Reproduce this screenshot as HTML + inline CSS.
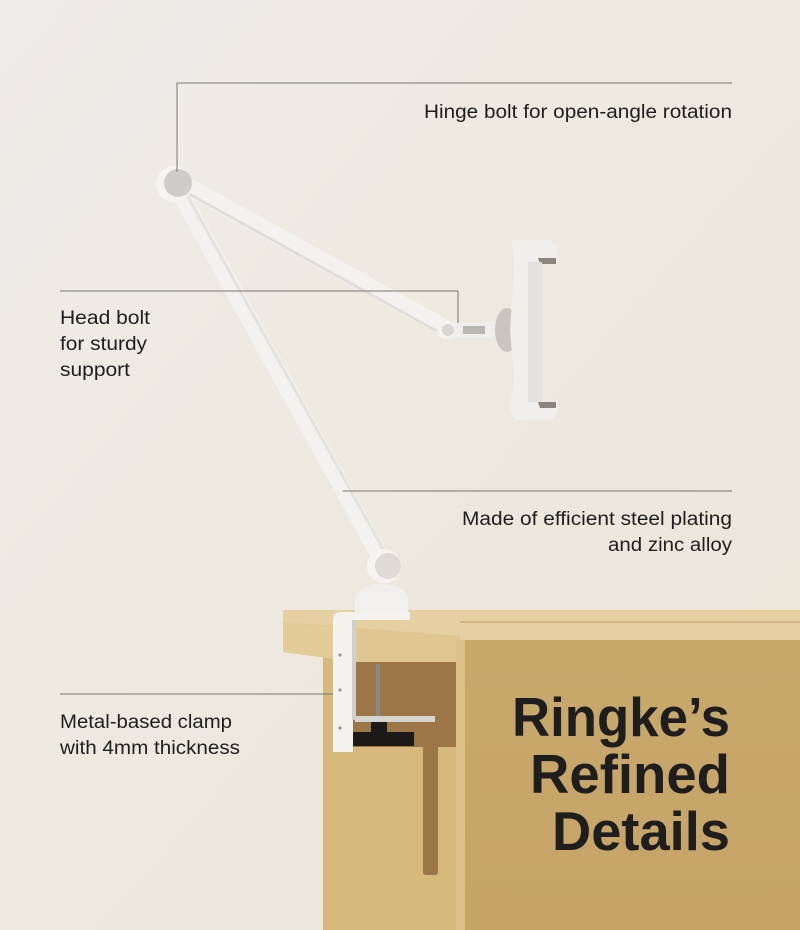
<!DOCTYPE html>
<html><head><meta charset="utf-8"><style>
html,body{margin:0;padding:0;width:800px;height:930px;overflow:hidden}
svg{display:block}
text{font-family:"Liberation Sans",sans-serif;fill:#1e1e1e}
</style></head><body>
<svg width="800" height="930" viewBox="0 0 800 930" xmlns="http://www.w3.org/2000/svg">
<defs>
<linearGradient id="bg" x1="0" y1="0" x2="1" y2="1">
<stop offset="0" stop-color="#efede8"/><stop offset="1" stop-color="#ebe5d8"/>
</linearGradient>
<linearGradient id="face" x1="0" y1="0" x2="0" y2="1">
<stop offset="0" stop-color="#c9a86c"/><stop offset="1" stop-color="#c6a468"/>
</linearGradient>
</defs>
<rect width="800" height="930" fill="url(#bg)"/>

<!-- desk -->
<rect x="323" y="650" width="142" height="280" fill="#d8b97d"/>
<rect x="283" y="610" width="517" height="30" fill="#e6cfa1"/>
<line x1="460" y1="622" x2="800" y2="622" stroke="#d2b784" stroke-width="2"/>
<polygon points="283,622 460,636 460,678 357,662 283,652" fill="#e0c792"/>
<polygon points="283,622 357,630 357,662 283,652" fill="#e4cc99"/>
<rect x="352" y="662" width="104" height="85" fill="#9c7646"/>
<rect x="423" y="745" width="15" height="130" rx="3" fill="#9c7646"/>
<rect x="456" y="640" width="10" height="290" fill="#dcc08a"/>
<rect x="465" y="640" width="335" height="290" fill="url(#face)"/>

<!-- clamp -->
<rect x="376" y="664" width="4" height="60" fill="#8a8a88"/>
<rect x="355" y="716" width="80" height="6" fill="#d4d4d0"/>
<rect x="371" y="722" width="16" height="12" fill="#1c1a18"/>
<rect x="352" y="732" width="62" height="14" fill="#1c1a18"/>
<path d="M333 752 L333 620 Q333 612 341 612 L410 612 L410 620 L353 620 L353 752 Z" fill="#f3f2ef"/>
<rect x="352" y="620" width="4" height="100" fill="#cfcfcb"/>
<circle cx="340" cy="655" r="1.6" fill="#999"/><circle cx="340" cy="690" r="1.6" fill="#999"/><circle cx="340" cy="728" r="1.6" fill="#999"/>
<path d="M355 612 L355 598 Q360 585 382 584 Q404 585 408 598 L408 612 Z" fill="#f1f0ed"/>

<!-- arms -->
<line x1="176" y1="186" x2="382" y2="560" stroke="#f3f2ef" stroke-width="17" stroke-linecap="round"/>
<line x1="182" y1="186" x2="388" y2="558" stroke="#e4e2dd" stroke-width="3"/>
<line x1="180" y1="182" x2="445" y2="328" stroke="#f3f2ef" stroke-width="17" stroke-linecap="round"/>
<line x1="182" y1="190" x2="442" y2="334" stroke="#e0ded9" stroke-width="3"/>
<circle cx="174" cy="184" r="18" fill="#f5f4f1"/>
<circle cx="178" cy="183" r="14" fill="#cfcdc9"/>
<circle cx="384" cy="566" r="17" fill="#f5f4f1"/>
<circle cx="388" cy="566" r="13" fill="#dedbd5"/>
<!-- head -->
<rect x="440" y="322" width="60" height="16" rx="3" fill="#efeeeb"/>
<rect x="463" y="326" width="22" height="8" fill="#b9b7b2"/>
<circle cx="446" cy="330" r="9" fill="#f4f3f0"/><circle cx="448" cy="330" r="6" fill="#d8d6d1"/>
<ellipse cx="507" cy="330" rx="12" ry="22" fill="#c9c6c0"/>
<!-- tablet holder -->
<path d="M512 240 L548 240 Q558 242 558 254 L558 262 L540 262 L536 268 L528 268 L528 400 L540 400 L540 402 L558 402 L558 410 Q556 420 546 420 L516 420 Q510 414 510 404 L514 380 L510 330 L514 270 Z" fill="#f0efec"/>
<path d="M538 258 L556 258 L556 264 L540 264 Z" fill="#8a857d"/>
<path d="M538 402 L556 402 L556 408 L540 408 Z" fill="#8a857d"/>
<rect x="528" y="262" width="14" height="140" fill="#e4e2de"/>

<!-- callout lines -->
<g stroke="#77766f" stroke-width="1" fill="none">
<polyline points="177,172 177,83 732,83"/>
<polyline points="60,291 458,291 458,323"/>
<line x1="343" y1="491" x2="732" y2="491"/>
<line x1="60" y1="694" x2="333" y2="694"/>
</g>

<!-- labels -->
<g font-size="19">
<text x="732" y="118" text-anchor="end" textLength="308" lengthAdjust="spacingAndGlyphs">Hinge bolt for open-angle rotation</text>
<text x="60" y="324" textLength="90" lengthAdjust="spacingAndGlyphs">Head bolt</text>
<text x="60" y="350" textLength="87" lengthAdjust="spacingAndGlyphs">for sturdy</text>
<text x="60" y="376" textLength="70" lengthAdjust="spacingAndGlyphs">support</text>
<text x="732" y="525" text-anchor="end" textLength="270" lengthAdjust="spacingAndGlyphs">Made of efficient steel plating</text>
<text x="732" y="551" text-anchor="end" textLength="124" lengthAdjust="spacingAndGlyphs">and zinc alloy</text>
<text x="60" y="728" textLength="172" lengthAdjust="spacingAndGlyphs">Metal-based clamp</text>
<text x="60" y="754" textLength="180" lengthAdjust="spacingAndGlyphs">with 4mm thickness</text>
</g>
<g font-size="55" font-weight="bold" text-anchor="end" fill="#111">
<text x="730" y="736" textLength="218" lengthAdjust="spacingAndGlyphs">Ringke’s</text>
<text x="730" y="793" textLength="200" lengthAdjust="spacingAndGlyphs">Refined</text>
<text x="730" y="850" textLength="178" lengthAdjust="spacingAndGlyphs">Details</text>
</g>
</svg>
</body></html>
